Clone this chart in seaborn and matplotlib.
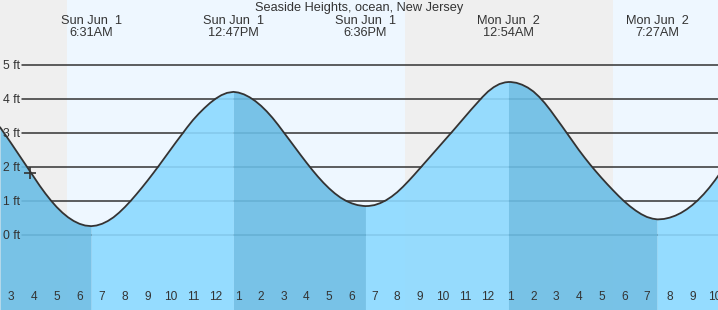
import numpy as np
import pandas as pd
import matplotlib
matplotlib.use("Agg")
import matplotlib.pyplot as plt
import matplotlib.transforms as mtransforms
import seaborn as sns

# tide height in ft, every 15 min from 2:30 AM Jun 1
inicio_h = 2.5
passo_h = 0.25
alturas = [3.17, 2.933, 2.69, 2.441, 2.19, 1.938, 1.69, 1.449, 1.22, 1.009,
           0.82, 0.657, 0.52, 0.411, 0.33, 0.279, 0.26, 0.279, 0.33, 0.411,
           0.52, 0.659, 0.82, 0.998, 1.19, 1.391, 1.60, 1.817, 2.04, 2.269,
           2.50, 2.727, 2.95, 3.171, 3.38, 3.564, 3.73, 3.881, 4.01, 4.112,
           4.18, 4.204, 4.19, 4.136, 4.05, 3.938, 3.80, 3.636, 3.45, 3.241,
           3.02, 2.796, 2.57, 2.348, 2.13, 1.919, 1.72, 1.536, 1.37, 1.224,
           1.10, 1.003, 0.93, 0.880, 0.855, 0.854, 0.88, 0.937, 1.02, 1.128,
           1.26, 1.417, 1.59, 1.772, 1.96, 2.149, 2.34, 2.53, 2.72, 2.909,
           3.10, 3.295, 3.49, 3.683, 3.87, 4.055, 4.22, 4.348, 4.44, 4.489,
           4.50, 4.476, 4.42, 4.336, 4.22, 4.065, 3.88, 3.668, 3.44, 3.207,
           2.97, 2.733, 2.50, 2.280, 2.07, 1.871, 1.68, 1.496, 1.32, 1.149,
           0.99, 0.846, 0.72, 0.613, 0.53, 0.480, 0.46, 0.472, 0.51, 0.569,
           0.65, 0.754, 0.88, 1.029, 1.20, 1.394, 1.61, 1.845, 2.10]
horas = [inicio_h + passo_h * i for i in range(len(alturas))]

# high / low tides (hours since midnight Jun 1)
extremos_t = [6.517, 12.783, 18.6, 24.9, 31.45]
extremos_h = [0.26, 4.21, 0.85, 4.50, 0.46]
extremos_dia = ["Sun Jun  1", "Sun Jun  1", "Sun Jun  1", "Mon Jun  2", "Mon Jun  2"]
extremos_hora = ["6:31AM", "12:47PM", "6:36PM", "12:54AM", "7:27AM"]

# daylight (sunrise, sunset)
dia_inicio = [5.45, 29.5]
dia_fim = [20.34, 40.0]

agora_t = 3.82
agora_h = 1.83

niveis = [0, 1, 2, 3, 4, 5]
horas_eixo = list(range(3, 35))
rotulos_eixo = [str((h - 1) % 12 + 1) for h in horas_eixo]
titulo = "Seaside Heights, ocean, New Jersey"

df = pd.DataFrame({"t": horas + extremos_t, "h": alturas + extremos_h})
df = df.sort_values("t").drop_duplicates("t").reset_index(drop=True)

sns.set_style("white")
plt.rcParams["font.family"] = ["Liberation Sans", "DejaVu Sans"]

cinza_txt = "#333333"
fig = plt.figure(figsize=(7.18, 3.10), dpi=100)
ax = fig.add_axes([0, 0, 1, 1])
ax.set_facecolor("#efefef")
ax.set_xlim(2.5, 34.13)
ax.set_ylim(-2.206, 6.912)

for a, b in zip(dia_inicio, dia_fim):
    ax.axvspan(a, b, color="#eef7ff", lw=0, zorder=0)

# ft labels, nudged 1px down so the digits sit centred on the line
trans = mtransforms.blended_transform_factory(ax.transAxes, ax.transData)
desloc = mtransforms.ScaledTranslation(0, -1 / 100, fig.dpi_scale_trans)
for n in niveis:
    ax.axhline(n, xmin=22 / 718, xmax=1, color=cinza_txt, lw=1.1, zorder=1)
    ax.text(3 / 718, n, f"{n} ft", transform=trans + desloc, va="center",
            ha="left", fontsize=8.8, color=cinza_txt)

# falling tide darker, rising tide lighter
limites = [df.t.min()] + extremos_t + [df.t.max()]
for i in range(len(limites) - 1):
    seg = df[(df.t >= limites[i]) & (df.t <= limites[i + 1])]
    cor = "#6bbde5" if i % 2 == 0 else "#8cd9ff"
    ax.fill_between(seg.t, -3, seg.h, color=cor, alpha=0.9, lw=0, zorder=2)

sns.lineplot(data=df, x="t", y="h", ax=ax, color=cinza_txt, lw=1.3, zorder=3)
ax.plot(agora_t, agora_h, marker="+", ms=9, mew=1.2, color=cinza_txt, zorder=4)

trans_top = mtransforms.blended_transform_factory(ax.transData, ax.transAxes)
for t, d, hr in zip(extremos_t, extremos_dia, extremos_hora):
    ax.text(t, 1 - 21 / 310, d, transform=trans_top, ha="center", va="center",
            fontsize=9.2, color=cinza_txt)
    ax.text(t, 1 - 33.5 / 310, hr, transform=trans_top, ha="center", va="center",
            fontsize=9.2, color=cinza_txt)
ax.text(0.5, 1 - 8.5 / 310, titulo, transform=ax.transAxes, ha="center",
        va="center", fontsize=9.2, color=cinza_txt)

ax.set_xticks(horas_eixo)
ax.set_xticklabels(rotulos_eixo)
ax.set_yticks([])
ax.tick_params(axis="x", direction="in", length=5.8, width=1, color=cinza_txt,
               pad=-14, labelsize=8.6, labelcolor=cinza_txt)
ax.xaxis.set_zorder(6)
for tk, h in zip(ax.xaxis.get_major_ticks(), horas_eixo):
    if h == 24:
        tk.tick1line.set_markeredgewidth(2.8)
ax.set_xlabel("")
ax.set_ylabel("")
for s in ax.spines.values():
    s.set_visible(False)

fig.savefig("out.png", dpi=100)
